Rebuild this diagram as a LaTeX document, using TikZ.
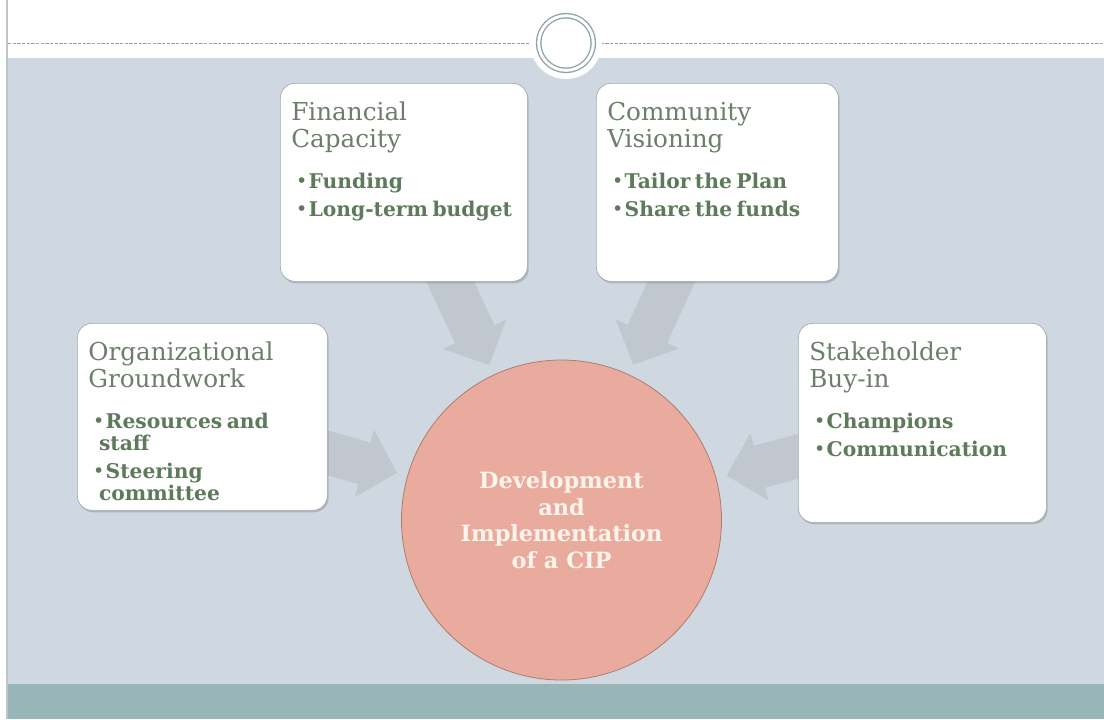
\documentclass[tikz,border=0pt]{standalone}
\usepackage{fontspec}
\setmainfont{DejaVu Serif}
\usetikzlibrary{arrows.meta,positioning,backgrounds,shadows}
\pgfdeclarelayer{backdrop}
\pgfsetlayers{backdrop,background,main}
\definecolor{pageFill}{HTML}{CFD8E0}
\definecolor{baseFill}{HTML}{98B5B7}
\definecolor{edgeDraw}{HTML}{BFC4C8}
\definecolor{ruleDraw}{HTML}{9AA4AA}
\definecolor{ringDraw}{HTML}{8EA4A8}
\definecolor{cardDraw}{HTML}{A3AAB0}
\definecolor{headText}{HTML}{6E7D6C}
\definecolor{itemText}{HTML}{5D7A5B}
\definecolor{flowFill}{HTML}{C0C7CF}
\definecolor{hubFill}{HTML}{E9AB9D}
\definecolor{hubDraw}{HTML}{B07C70}
\definecolor{hubText}{HTML}{FFF4EC}
% card heading and bullet lines
\newcommand\cardhead[1]{{\fontsize{18.5pt}{20.25pt}\selectfont\color{headText}#1\par}\vspace{14pt}}
\newcommand\carditem[1]{{\fontsize{15.2pt}{16.5pt}\selectfont\bfseries\color{itemText}%
  \hangindent=8pt\hangafter=1\noindent\hspace*{4pt}%
  \makebox[9pt][l]{\raisebox{1pt}{\fontsize{12pt}{12pt}\selectfont•}}#1\par}\vspace{4.5pt}}
\tikzset{
  card/.style ={draw=cardDraw, line width=0.5pt, fill=white, rounded corners=11pt,
                inner xsep=8.25pt, inner ysep=0pt, text height=27.75pt, anchor=north west,
                drop shadow={shadow xshift=1pt, shadow yshift=-1.5pt, opacity=0.3, fill=black!60}},
  hub/.style  ={circle, draw=hubDraw, line width=0.6pt, fill=hubFill, minimum size=240pt, inner sep=0pt,
                align=center, text=hubText, font=\fontsize{16.8pt}{20pt}\selectfont\bfseries},
  flow/.style ={draw=flowFill, line width=32.5pt,
                -{Triangle[length=25.5pt, width=52.5pt, line width=0pt]}, shorten >=8pt},
  rule/.style ={draw=ruleDraw, line width=0.6pt, dash pattern=on 2.5pt off 1pt},
  halo/.style ={circle, fill=white, minimum size=54pt, inner sep=0pt},
  ring/.style ={circle, draw=ringDraw, double=white, double distance=2.2pt, line width=1pt,
                minimum size=41pt, inner sep=0pt},
}

\begin{document}
\begin{tikzpicture}[x=0.75pt, y=-0.75pt]
  \useasboundingbox (0,0) rectangle (1104,719);
  % slide background
  \begin{pgfonlayer}{backdrop}
    \fill[white] (0,0) rectangle (1104,719);
    \fill[pageFill] (8,58) rectangle (1104,684);
    \fill[baseFill] (8,684) rectangle (1104,719);
    \draw[edgeDraw, line width=1.5pt] (7,0) -- (7,719);
  \end{pgfonlayer}
  % header rule with badge
  \draw[rule] (8,43) -- (1104,43);
  \node[halo] (badge) at (566,43) {};
  \node[ring] (ring) at (badge) {};

  % centre
  \node[hub] (hub) at (561.5,520) {Development\\and\\Implementation\\of a CIP};
  % cards
  \node[card, text width=168.75pt, text depth=120.75pt] (fin) at (280,83)
    {\cardhead{Financial\\Capacity}\carditem{Funding}\carditem{Long-term budget}};
  \node[card, text width=165pt, text depth=120.75pt] (com) at (596,83)
    {\cardhead{Community\\Visioning}\carditem{Tailor the Plan}\carditem{Share the funds}};
  \node[card, text width=171pt, text depth=112.5pt] (org) at (77,323)
    {\cardhead{Organizational\\Groundwork}\carditem{Resources and\newline staff}\carditem{Steering\newline committee}};
  \node[card, text width=169.5pt, text depth=121.5pt] (stake) at (798,323)
    {\cardhead{Stakeholder\\Buy-in}\carditem{Champions}\carditem{Communication}};

  % block arrows into the centre
  \begin{scope}[on background layer]
    \draw[flow] (fin.center)   -- (hub);
    \draw[flow] (com.center)   -- (hub);
    \draw[flow] (org.center)   -- (hub);
    \draw[flow] (stake.center) -- (hub);
  \end{scope}
\end{tikzpicture}
\end{document}
